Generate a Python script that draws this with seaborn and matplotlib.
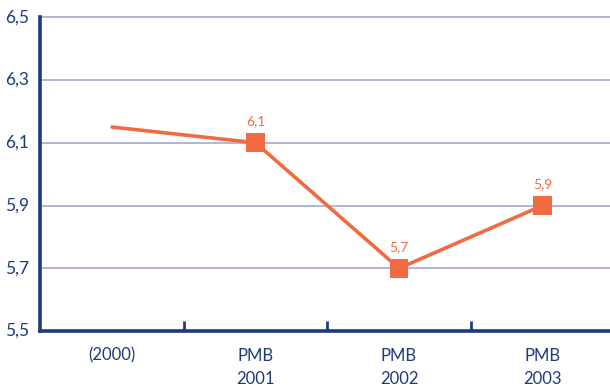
import matplotlib
matplotlib.use("Agg")
import matplotlib.pyplot as plt
import seaborn as sns
import pandas as pd

periods = ["(2000)", "PMB\n2001", "PMB\n2002", "PMB\n2003"]
values = [6.15, 6.1, 5.7, 5.9]
labelled = [False, True, True, True]
y_ticks = [5.5, 5.7, 5.9, 6.1, 6.3, 6.5]

NAVY = "#1c3b7c"
ORANGE = "#f26a41"
GRID = "#aab0d8"

sns.set_theme(style="white")
plt.rcParams["font.family"] = ["Lato", "DejaVu Sans"]

df = pd.DataFrame({"period": periods, "value": values, "labelled": labelled})
df["pos"] = range(len(df))

fig = plt.figure(figsize=(6.1, 3.9), dpi=100)
ax = fig.add_axes([0.066, 0.151, 0.934, 0.805])

for t in y_ticks[1:]:
    ax.axhline(t, color=GRID, lw=1.3, zorder=1, clip_on=False)

sns.lineplot(data=df, x="pos", y="value", color=ORANGE, lw=2.6, ax=ax, zorder=3)
marked = df[df["labelled"]]
sns.scatterplot(data=marked, x="pos", y="value", color=ORANGE, marker="s",
                s=180, edgecolor="none", ax=ax, zorder=4)
for _, r in marked.iterrows():
    ax.annotate(f"{r['value']:.1f}".replace(".", ","), (r["pos"], r["value"]),
                xytext=(0, 11), textcoords="offset points", ha="center",
                va="bottom", color=ORANGE, fontsize=10)

ax.set_xlim(-0.5, 3.47)
ax.set_ylim(5.5, 6.5)
ax.set_yticks(y_ticks)
ax.set_yticklabels([f"{t:.1f}".replace(".", ",") for t in y_ticks])
ax.set_xticks(range(len(periods)))
ax.set_xticklabels(periods, linespacing=1.55, va="top")
ax.set_xticks([0.5, 1.5, 2.5], minor=True)
ax.tick_params(axis="x", which="major", length=0, pad=12, colors=NAVY, labelsize=12)
ax.tick_params(axis="x", which="minor", direction="in", length=7, width=2, color=NAVY, bottom=True)
ax.tick_params(axis="y", length=0, pad=8, colors=NAVY, labelsize=12.5)
for lab in ax.get_yticklabels():
    lab.set_va("center")
ax.set_xlabel("")
ax.set_ylabel("")

for side in ["top", "right"]:
    ax.spines[side].set_visible(False)
for side in ["left", "bottom"]:
    ax.spines[side].set_color(NAVY)
    ax.spines[side].set_linewidth(2.6)
    ax.spines[side].set_zorder(5)

fig.savefig("out.png", dpi=100)
